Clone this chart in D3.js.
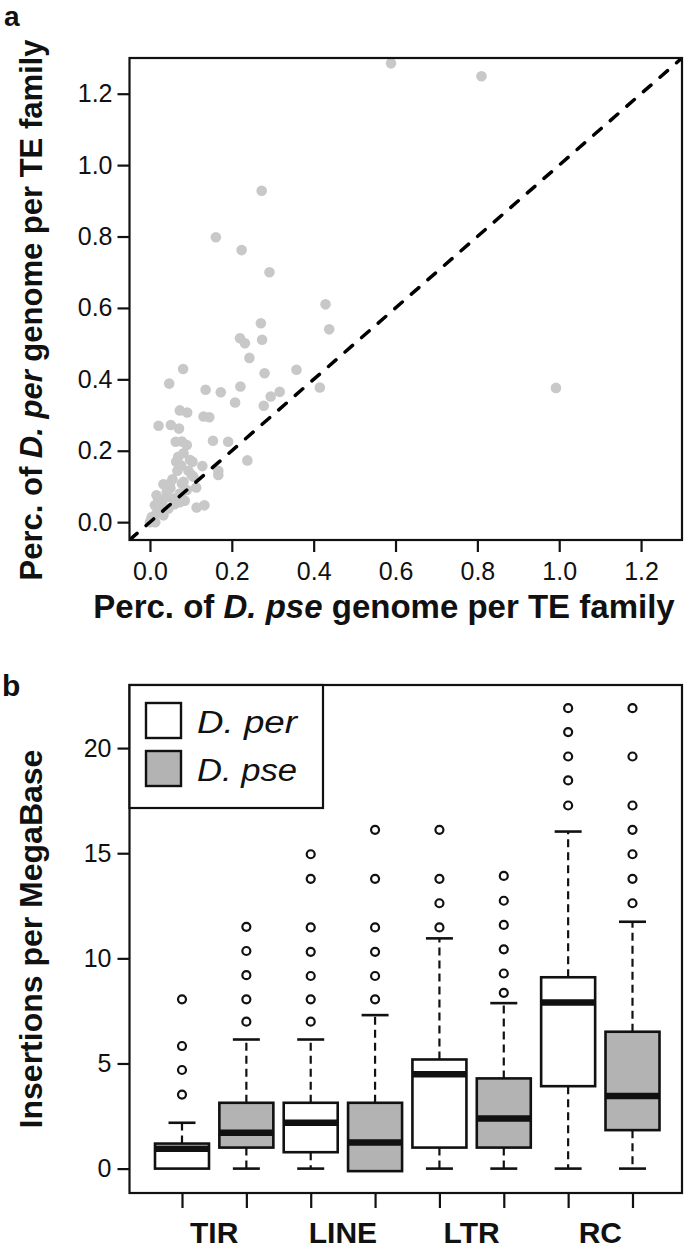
<!DOCTYPE html>
<html><head><meta charset="utf-8">
<script src="https://cdn.jsdelivr.net/npm/d3@7"></script>
<style>body{margin:0;background:#fff}svg{display:block}text{font-family:"Liberation Sans",Arial,Helvetica,sans-serif}</style>
</head><body>
<svg id="c" width="685" height="1250"></svg>
<script>
// ---------- Panel a data ----------
const scatterX = [0.589,0.810,0.992,0.273,0.161,0.224,0.292,0.429,0.438,0.271,0.220,0.232,0.274,0.243,0.081,0.358,0.047,0.280,0.136,0.173,0.221,0.415,0.317,0.295,0.208,0.278,0.073,0.091,0.021,0.051,0.071,0.131,0.145,0.063,0.078,0.090,0.154,0.191,0.238,0.069,0.082,0.064,0.104,0.128,0.076,0.067,0.094,0.167,0.167,0.106,0.113,0.078,0.033,0.049,0.114,0.133,0.078,0.000,0.098,0.102,0.082,0.016,0.041,0.057,0.073,0.012,0.029,0.045,0.004,0.016,0.033,0.073,0.013,0.020,0.050,0.060,0.025,0.040,0.090,0.055,0.085];
const scatterY = [1.285,1.249,0.376,0.928,0.798,0.762,0.700,0.610,0.540,0.557,0.515,0.501,0.511,0.460,0.429,0.427,0.388,0.417,0.371,0.364,0.380,0.377,0.365,0.352,0.335,0.326,0.313,0.307,0.270,0.272,0.262,0.296,0.294,0.225,0.226,0.216,0.228,0.225,0.173,0.183,0.193,0.169,0.169,0.157,0.159,0.144,0.144,0.144,0.132,0.127,0.097,0.108,0.106,0.108,0.041,0.047,0.066,0.000,0.174,0.132,0.113,0.075,0.085,0.066,0.080,0.047,0.052,0.038,0.014,0.024,0.019,0.056,0.000,0.060,0.095,0.050,0.035,0.070,0.090,0.120,0.060];
const scatterTicks = [0,0.2,0.4,0.6,0.8,1.0,1.2];

// ---------- Panel b data ----------
const categories = ["TIR","LINE","LTR","RC"];
const species = ["D. per","D. pse"];
const perQ1  = [0.00, 0.78, 1.00, 3.92];
const perMed = [0.95, 2.18, 4.49, 7.90];
const perQ3  = [1.19, 3.13, 5.19, 9.10];
const perLo  = [0, 0, 0, 0];
const perHi  = [2.18, 6.14, 10.95, 16.03];
const perOut = [[8.05,5.83,4.69,3.52],[14.95,13.78,11.47,10.31,9.16,8.05,6.99],[16.11,13.78,12.62,11.47],[21.9,20.76,19.6,18.46,17.27]];
const pseQ1  = [1.00, -0.12, 1.00, 1.83];
const pseMed = [1.70, 1.24, 2.38, 3.45];
const pseQ3  = [3.13, 3.13, 4.29, 6.51];
const pseLo  = [0, -0.12, 0, 0];
const pseHi  = [6.14, 7.30, 7.87, 11.74];
const pseOut = [[11.5,10.35,9.2,8.05,6.99],[16.11,13.78,11.47,10.31,9.16,8.05],[13.92,12.74,11.59,10.43,9.28,8.36],[21.9,19.6,17.27,16.11,14.95,13.78,12.62]];
const boxTicks = [0,5,10,15,20];

const svg = d3.select("#c");
const L = 129.5, R = 682;

// ================= Panel a =================
const ax = d3.scaleLinear().domain([-0.05,1.3]).range([L,R]);
const ay = d3.scaleLinear().domain([-0.05,1.3]).range([540,58]);
const ga = svg.append("g");
ga.append("defs").append("clipPath").attr("id","clipA").append("rect")
  .attr("x",L).attr("y",58).attr("width",R-L).attr("height",540-58);

ga.append("g").selectAll("circle").data(scatterX.map((x,i)=>[x,scatterY[i]])).join("circle")
  .attr("cx",d=>ax(d[0])).attr("cy",d=>ay(d[1])).attr("r",5.3).attr("fill","#c8c8c8");

ga.append("line").attr("clip-path","url(#clipA)")
  .attr("x1",ax(-0.05)).attr("y1",ay(-0.05)).attr("x2",ax(1.3)).attr("y2",ay(1.3))
  .attr("stroke","#000").attr("stroke-width",3.5).attr("stroke-dasharray","10,12").attr("stroke-linecap","round");

ga.append("rect").attr("x",L).attr("y",58).attr("width",R-L).attr("height",540-58)
  .attr("fill","none").attr("stroke","#111").attr("stroke-width",2.2);

const axB = ga.append("g").attr("transform","translate(0,540)")
  .call(d3.axisBottom(ax).tickValues(scatterTicks).tickFormat(d3.format(".1f")).tickSize(12).tickPadding(10));
const axL = ga.append("g").attr("transform",`translate(${L},0)`)
  .call(d3.axisLeft(ay).tickValues(scatterTicks).tickFormat(d3.format(".1f")).tickSize(12).tickPadding(5));
[axB,axL].forEach(g=>{
  g.select(".domain").remove();
  g.selectAll(".tick line").attr("stroke","#111").attr("stroke-width",2.2);
  g.selectAll(".tick text").attr("font-size",25).attr("fill","#111").attr("font-family","Liberation Sans, Arial, sans-serif");
});

// axis titles a
const xt = ga.append("text").attr("x",384).attr("y",618).attr("text-anchor","middle")
  .attr("font-size",33).attr("font-weight","bold").attr("fill","#111");
xt.append("tspan").text("Perc. of ");
xt.append("tspan").attr("font-style","italic").text("D. pse");
xt.append("tspan").text(" genome per TE family");

const yt = ga.append("text").attr("transform","translate(42,310) rotate(-90)").attr("text-anchor","middle")
  .attr("font-size",31).attr("font-weight","bold").attr("fill","#111");
yt.append("tspan").text("Perc. of ");
yt.append("tspan").attr("font-style","italic").text("D. per");
yt.append("tspan").text(" genome per TE family");

svg.append("text").attr("x",4).attr("y",26).attr("font-size",28).attr("font-weight","bold").attr("fill","#111").text("a");

// ================= Panel b =================
const T = 685, B = 1193;
const by = d3.scaleLinear().domain([-1.16,23.0]).range([B,T]);
const bx = d3.scaleLinear().domain([1,8]).range([182,632.5]);
const hw = 27;
const gb = svg.append("g");

const boxes = [];
categories.forEach((c,i)=>{
  boxes.push({pos:2*i+1, q1:perQ1[i], med:perMed[i], q3:perQ3[i], lo:perLo[i], hi:perHi[i], out:perOut[i], fill:"#ffffff"});
  boxes.push({pos:2*i+2, q1:pseQ1[i], med:pseMed[i], q3:pseQ3[i], lo:pseLo[i], hi:pseHi[i], out:pseOut[i], fill:"#b3b3b3"});
});

const bg = gb.selectAll("g.box").data(boxes).join("g").attr("class","box");
bg.append("line").attr("x1",d=>bx(d.pos)).attr("x2",d=>bx(d.pos)).attr("y1",d=>by(d.q3)).attr("y2",d=>by(d.hi))
  .attr("stroke","#111").attr("stroke-width",2.2).attr("stroke-dasharray","8,5");
bg.append("line").attr("x1",d=>bx(d.pos)).attr("x2",d=>bx(d.pos)).attr("y1",d=>by(d.q1)).attr("y2",d=>by(d.lo))
  .attr("stroke","#111").attr("stroke-width",2.2).attr("stroke-dasharray","8,5");
bg.append("line").attr("x1",d=>bx(d.pos)-hw/2).attr("x2",d=>bx(d.pos)+hw/2).attr("y1",d=>by(d.hi)).attr("y2",d=>by(d.hi))
  .attr("stroke","#111").attr("stroke-width",2.6);
bg.filter(d=>d.lo<d.q1).append("line").attr("x1",d=>bx(d.pos)-hw/2).attr("x2",d=>bx(d.pos)+hw/2).attr("y1",d=>by(d.lo)).attr("y2",d=>by(d.lo))
  .attr("stroke","#111").attr("stroke-width",2.6);
bg.append("rect").attr("x",d=>bx(d.pos)-hw).attr("width",2*hw).attr("y",d=>by(d.q3)).attr("height",d=>by(d.q1)-by(d.q3))
  .attr("fill",d=>d.fill).attr("stroke","#111").attr("stroke-width",2.6);
bg.append("line").attr("x1",d=>bx(d.pos)-hw).attr("x2",d=>bx(d.pos)+hw).attr("y1",d=>by(d.med)).attr("y2",d=>by(d.med))
  .attr("stroke","#111").attr("stroke-width",6.5);
bg.each(function(d){
  d3.select(this).selectAll("circle").data(d.out).join("circle")
    .attr("cx",bx(d.pos)).attr("cy",v=>by(v)).attr("r",4).attr("fill","none").attr("stroke","#111").attr("stroke-width",2.2);
});

gb.append("rect").attr("x",L).attr("y",T).attr("width",R-L).attr("height",B-T)
  .attr("fill","none").attr("stroke","#111").attr("stroke-width",2.2);

const bAxL = gb.append("g").attr("transform",`translate(${L},0)`)
  .call(d3.axisLeft(by).tickValues(boxTicks).tickSize(12).tickPadding(6));
const bAxB = gb.append("g").attr("transform",`translate(0,${B})`)
  .call(d3.axisBottom(bx).tickValues(d3.range(1,9)).tickFormat("").tickSize(15));
[bAxL,bAxB].forEach(g=>{
  g.select(".domain").remove();
  g.selectAll(".tick line").attr("stroke","#111").attr("stroke-width",2.2);
  g.selectAll(".tick text").attr("font-size",25).attr("fill","#111").attr("font-family","Liberation Sans, Arial, sans-serif");
});

gb.append("g").selectAll("text").data(categories).join("text")
  .attr("x",(d,i)=>(bx(2*i+1)+bx(2*i+2))/2).attr("y",1243).attr("text-anchor","middle")
  .attr("font-size",30).attr("font-weight","bold").attr("fill","#111").text(d=>d);

gb.append("text").attr("transform","translate(42,939) rotate(-90)").attr("text-anchor","middle")
  .attr("font-size",32).attr("font-weight","bold").attr("fill","#111").text("Insertions per MegaBase");

// legend
const lg = gb.append("g");
lg.append("rect").attr("x",L).attr("y",T).attr("width",323-L).attr("height",808-T)
  .attr("fill","#fff").attr("stroke","#111").attr("stroke-width",2.2);
const legFill = ["#ffffff","#b3b3b3"];
const legY = [703,751];
species.forEach((s,i)=>{
  lg.append("rect").attr("x",146).attr("y",legY[i]).attr("width",35).attr("height",35)
    .attr("fill",legFill[i]).attr("stroke","#111").attr("stroke-width",2.4);
  lg.append("text").attr("x",197).attr("y",legY[i]+30).attr("font-size",31).attr("font-style","italic")
    .attr("fill","#111").attr("textLength",100).attr("lengthAdjust","spacingAndGlyphs").text(s);
});

svg.append("text").attr("x",2).attr("y",696).attr("font-size",30).attr("font-weight","bold").attr("fill","#111").text("b");
</script>
</body></html>
